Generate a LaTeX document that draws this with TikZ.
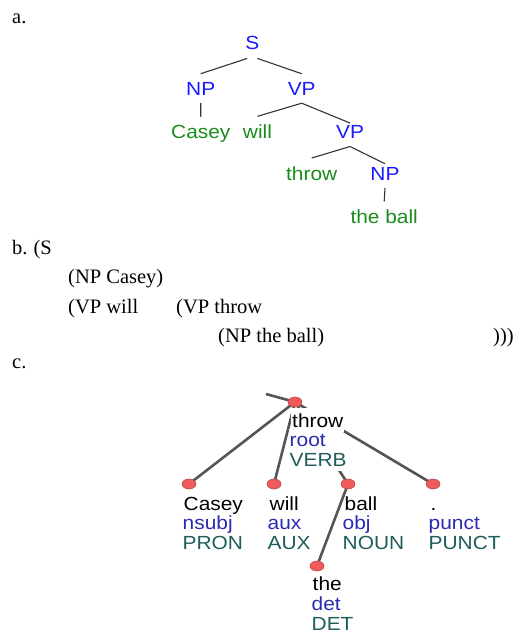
\documentclass[tikz,border=0pt]{standalone}
\usepackage{fontspec}
\setmainfont{Liberation Serif}
\newfontfamily\tsans[FakeStretch=1.1]{Liberation Sans}
\usetikzlibrary{shapes.geometric,backgrounds}
\definecolor{cblue}{HTML}{1A1AFF}
\definecolor{cgreen}{HTML}{1A8C1A}
\definecolor{rblue}{HTML}{2B2BB0}
\definecolor{pteal}{HTML}{1F5C5C}
\definecolor{dotred}{HTML}{F05A5A}
\definecolor{dotedge}{HTML}{B84848}
\definecolor{edgegray}{HTML}{555555}
\begin{document}
\begin{tikzpicture}[x=1pt,y=-1pt,
  serif/.style={font=\fontsize{20.5}{24}\selectfont, anchor=base west, inner sep=0pt},
  cat/.style={font=\tsans\fontsize{19}{22}\selectfont, text=cblue, anchor=base, inner xsep=1pt, inner ysep=8pt},
  word/.style={cat, text=cgreen},
  tline/.style={draw=black!80, line width=1.1pt},
  dep/.style={draw=edgegray, line width=2.6pt},
  tok/.style={ellipse, draw=dotedge, line width=0.6pt, fill=dotred, minimum width=14pt, minimum height=10pt, inner sep=0pt},
  lab/.style={font=\tsans\fontsize{19}{22}\selectfont, anchor=base west, inner sep=0pt},
  wordc/.style={lab, text=black},
  relc/.style={lab, text=rblue},
  posc/.style={lab, text=pteal},
  cover/.style={fill=white, inner xsep=1pt, inner ysep=5pt}]
\useasboundingbox (0,0) rectangle (517,634);

% ---- a. ----
\node[serif] (la) at (12,23.3) {a.};
\node[cat] (S) at (252.3,50) {S};
\node[cat] (NP) at (200.7,95) {NP};
\node[cat] (VP) at (301.7,95) {VP};
\node[word] (Casey) at (200.8,138.3) {Casey};
\node[word] (will) at (257.5,138.3) {will};
\node[cat] (VPb) at (350,138.3) {VP};
\node[word] (throwa) at (311.7,180) {throw};
\node[cat] (NPb) at (385,180) {NP};
\node[word] (theball) at (384.2,223.3) {the ball};
\draw[tline] ([xshift=-5pt]S.south) -- (NP.north);
\draw[tline] ([xshift=5pt]S.south) -- (VP.north);
\draw[tline] (NP.south) -- (Casey.north);
\draw[tline] (VP.south) -- (will.north);
\draw[tline] (VP.south) -- ([yshift=-6pt]VPb.north);
\draw[tline] (VPb.south) -- (throwa.north);
\draw[tline] (VPb.south) -- ([yshift=-5pt]NPb.north);
\draw[tline] (NPb.south) -- (theball.north);

% ---- b. ----
\node[serif] (lb) at (12,254) {b.\hspace{6pt}(S};
\node[serif] (b1) at (68,283) {(NP Casey)};
\node[serif] (b2) at (68,313) {(VP will};
\node[serif] (b3) at (176,313) {(VP throw};
\node[serif] (b4) at (218,342) {(NP the ball)};
\node[serif] (b5) at (493,342) {)))};

% ---- c. ----
\node[serif] (lc) at (12,368) {c.};
\coordinate (rt) at (266,394);
\node[tok] (d0) at (295,402) {};
\node[tok] (d1) at (189,484) {};
\node[tok] (d2) at (274,484) {};
\node[tok] (d3) at (348,484) {};
\node[tok] (d4) at (433,484) {};
\node[tok] (d5) at (317,566) {};

\node[wordc,cover] (tw) at (291,427) {throw};
\node[relc,cover] (tr) at (288.5,446.7) {root};
\node[posc,cover] (tp) at (288.5,466) {VERB};

\node[wordc] (cw) at (183.5,510) {Casey};
\node[relc] (cr) at (182.5,529.3) {nsubj};
\node[posc] (cp) at (182.5,549) {PRON};

\node[wordc] (ww) at (269.5,510) {will};
\node[relc] (wr) at (267.5,529.3) {aux};
\node[posc] (wp) at (267.5,549) {AUX};

\node[wordc] (bw) at (344.5,510) {ball};
\node[relc] (br) at (342.5,529.3) {obj};
\node[posc] (bp) at (342.5,549) {NOUN};

\node[wordc] (pw) at (430.5,510) {.};
\node[relc] (pr) at (428.5,529.3) {punct};
\node[posc] (pp) at (428.5,549) {PUNCT};

\node[wordc] (hw) at (312.5,590.5) {the};
\node[relc] (hr) at (311.5,610.5) {det};
\node[posc] (hp) at (311.5,630) {DET};

\begin{scope}[on background layer]
\draw[dep] (rt) -- (d0.center);
\draw[dep] (d0.center) -- (d1.center);
\draw[dep] (d0.center) -- (d2.center);
\draw[dep] (d0.center) -- (d3.center);
\draw[dep] (d0.center) -- (d4.center);
\draw[dep] (d3.center) -- (d5.center);
\end{scope}
\end{tikzpicture}
\end{document}
